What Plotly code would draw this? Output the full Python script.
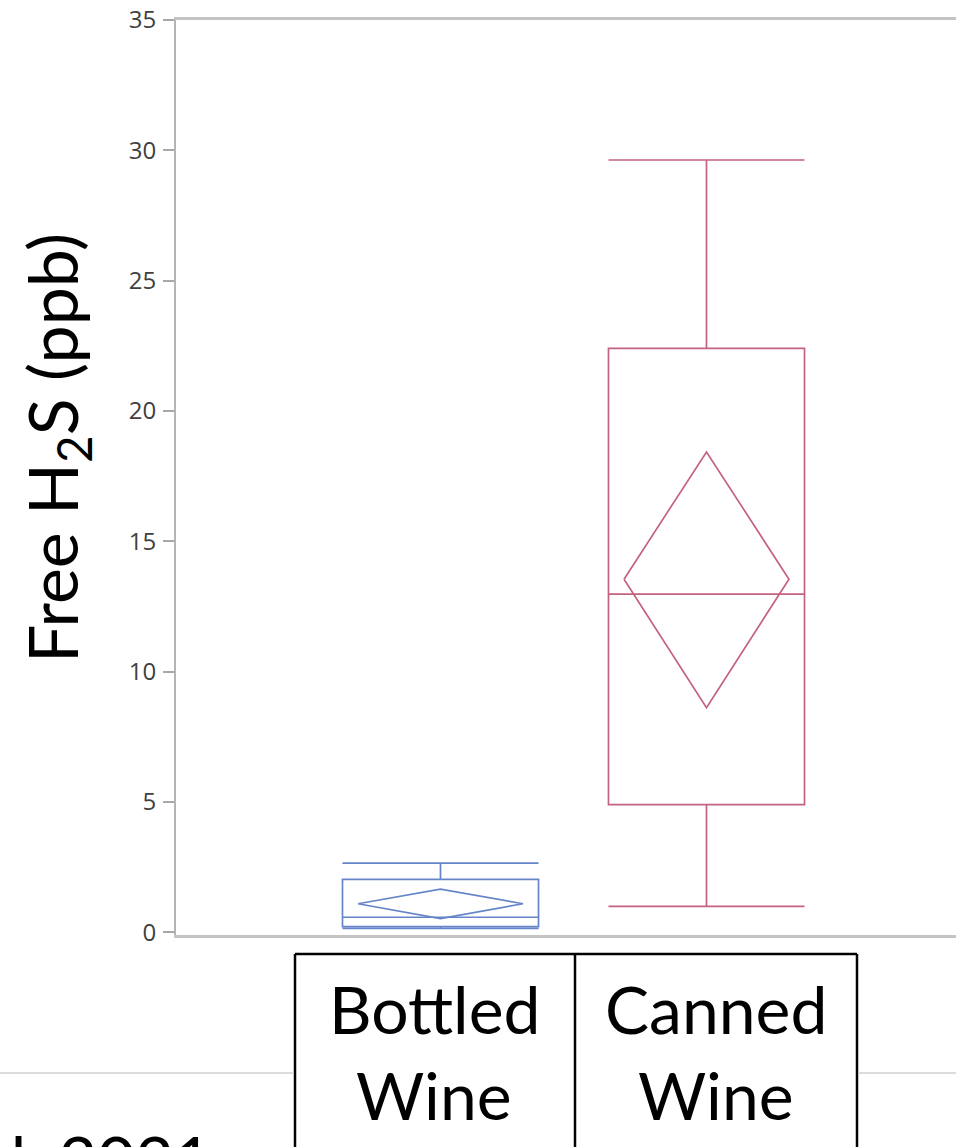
import plotly.graph_objects as go

# ---- data ----
categories = ["Bottled Wine", "Canned Wine"]
cat_line1 = ["Bottled", "Canned"]
cat_line2 = ["Wine", "Wine"]
lower_fence = [0.15, 1.00]
q1 = [0.22, 4.90]
median = [0.58, 12.98]
q3 = [2.03, 22.40]
upper_fence = [2.66, 29.63]
mean = [1.10, 13.55]
ci_low = [0.53, 8.62]
ci_high = [1.66, 18.43]
y_ticks = [0, 5, 10, 15, 20, 25, 30, 35]
colors = ["#6685c9", "#c4637f"]
footer_text = "al. 2021"

# ---- layout geometry (pixels) ----
W, H = 956, 1147
L, R, T, B = 176, 0, 20, 212
PW, PH = W - L - R, H - T - B
spacing_px = 266.0
first_center_px = 440.5
xmin = -(first_center_px - L) / spacing_px
xmax = xmin + PW / spacing_px
box_w = 0.737
diamond_hw = 0.31


def xp(px):
    return (px - L) / PW


def yp(py):
    return (H - B - py) / PH


fig = go.Figure()
positions = list(range(len(categories)))
for i, pos in enumerate(positions):
    fig.add_trace(go.Box(
        x=[pos], q1=[q1[i]], median=[median[i]], q3=[q3[i]],
        lowerfence=[lower_fence[i]], upperfence=[upper_fence[i]],
        width=box_w, whiskerwidth=1,
        line=dict(color=colors[i], width=1.7),
        fillcolor="rgba(0,0,0,0)", boxpoints=False,
        name=categories[i], showlegend=False, hoverinfo="skip",
    ))
    fig.add_trace(go.Scatter(
        x=[pos - diamond_hw, pos, pos + diamond_hw, pos, pos - diamond_hw],
        y=[mean[i], ci_high[i], mean[i], ci_low[i], mean[i]],
        mode="lines", line=dict(color=colors[i], width=1.7),
        showlegend=False, hoverinfo="skip",
    ))

fig.update_xaxes(
    range=[xmin, xmax], showticklabels=False, ticks="", showgrid=False,
    zeroline=False, showline=True, linecolor="#c4c4c4", linewidth=2.5,
    mirror=True,
)
fig.update_yaxes(
    range=[-0.1, 35], tickvals=y_ticks, ticks="outside", ticklen=11,
    tickwidth=1.5, tickcolor="#a8a8a8", showgrid=False, zeroline=False,
    showline=True, linecolor="#b4b4b4", linewidth=2,
    tickfont=dict(family="Open Sans", size=24, color="#404040"),
    ticklabelstandoff=2,
)

shapes = []
line_black = dict(color="black", width=2.5)
# table
shapes.append(dict(type="line", xref="paper", yref="paper",
                   x0=xp(295), x1=xp(857), y0=yp(954), y1=yp(954), line=line_black))
for xv in (295, 575, 857):
    shapes.append(dict(type="line", xref="paper", yref="paper",
                       x0=xp(xv), x1=xp(xv), y0=yp(954), y1=yp(1160), line=line_black))
# gray slide rule
gray = dict(color="#cfcfcf", width=1.5)
shapes.append(dict(type="line", xref="paper", yref="paper",
                   x0=xp(-5), x1=xp(294), y0=yp(1073), y1=yp(1073), line=gray))
shapes.append(dict(type="line", xref="paper", yref="paper",
                   x0=xp(858), x1=xp(960), y0=yp(1073), y1=yp(1073), line=gray))

annotations = []
big = dict(family="Lato", size=66, color="black")
cell_centers = [434, 716]
for i in range(len(categories)):
    annotations.append(dict(text=cat_line1[i], xref="paper", yref="paper",
                            x=xp(cell_centers[i]), y=yp(1008), xanchor="center",
                            yanchor="middle", showarrow=False, font=big))
    annotations.append(dict(text=cat_line2[i], xref="paper", yref="paper",
                            x=xp(cell_centers[i]), y=yp(1094), xanchor="center",
                            yanchor="middle", showarrow=False, font=big))
annotations.append(dict(text="Free H<sub>2</sub>S (ppb)", xref="paper", yref="paper",
                        x=xp(56), y=yp(448), xanchor="center", yanchor="middle",
                        textangle=-90, showarrow=False,
                        font=dict(family="Lato", size=68, color="black")))
annotations.append(dict(text=footer_text, xref="paper", yref="paper",
                        x=xp(214), y=yp(1158), xanchor="right", yanchor="middle",
                        showarrow=False, font=big))

fig.update_layout(
    width=W, height=H, margin=dict(l=L, r=R, t=T, b=B, pad=0),
    paper_bgcolor="white", plot_bgcolor="white",
    shapes=shapes, annotations=annotations,
)

fig.write_html("out.html")
